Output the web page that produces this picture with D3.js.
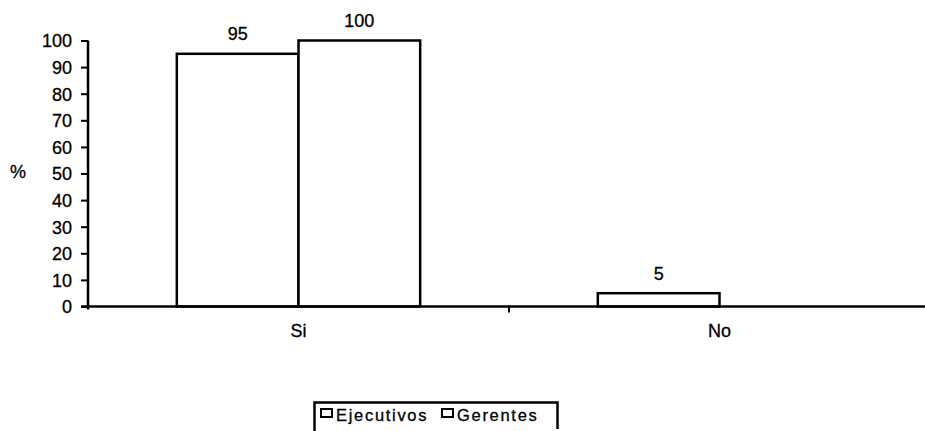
<!DOCTYPE html>
<html>
<head>
<meta charset="utf-8">
<script src="https://cdn.jsdelivr.net/npm/d3@7"></script>
<style>
  html, body { margin: 0; padding: 0; background: #fff; }
  svg { display: block; }
  text { font-family: "Liberation Sans", Arial, sans-serif; fill: #000; stroke: #000; stroke-width: 0.3px; }
</style>
</head>
<body>
<svg id="chart" width="925" height="431"></svg>
<script>
const categories = ["Si", "No"];
const seriesNames = ["Ejecutivos", "Gerentes"];
const ejecutivos = [95, 5];
const gerentes = [100, 0];
const yTicks = [0, 10, 20, 30, 40, 50, 60, 70, 80, 90, 100];
const yLabel = "%";

const FONT = "Liberation Sans, Arial, sans-serif";
const svg = d3.select("#chart");
const mLeft = 88, mRight = 930, mTop = 40.5, mBottom = 306.5;

const x = d3.scaleBand().domain(categories).range([mLeft, mRight]).padding(0);
const xInner = d3.scaleBand().domain(seriesNames)
  .range([0, x.bandwidth()]).paddingInner(0).paddingOuter(0.73);
const y = d3.scaleLinear().domain([0, 100]).range([mBottom, mTop]);

const data = categories.map((c, i) => ({
  cat: c,
  vals: [{s: seriesNames[0], v: ejecutivos[i]}, {s: seriesNames[1], v: gerentes[i]}]
}));

// bars
const g = svg.append("g");
data.forEach(d => {
  d.vals.forEach(e => {
    if (e.v <= 0) return;
    const bx = x(d.cat) + xInner(e.s);
    g.append("rect")
      .attr("x", bx).attr("y", y(e.v))
      .attr("width", xInner.bandwidth()).attr("height", y(0) - y(e.v))
      .attr("fill", "#fff").attr("stroke", "#000").attr("stroke-width", 2.5);
    g.append("text")
      .attr("x", bx + xInner.bandwidth() / 2).attr("y", y(e.v) - 13.5)
      .attr("text-anchor", "middle").attr("font-size", 18)
      .text(e.v);
  });
});

// y axis
const yAxis = svg.append("g").attr("transform", `translate(${mLeft},0)`)
  .call(d3.axisLeft(y).tickValues(yTicks).tickSize(7).tickPadding(9));
yAxis.selectAll("text").attr("font-size", 18).attr("font-family", FONT).attr("fill", "#000").attr("dy", "0.36em");
yAxis.selectAll("line").attr("stroke", "#000").attr("stroke-width", 2);
yAxis.select(".domain").attr("stroke", "#000").attr("stroke-width", 2.5).attr("d", `M0,${mTop}V${mBottom + 3}`);

// x axis
const xAxis = svg.append("g").attr("transform", `translate(0,${mBottom})`)
  .call(d3.axisBottom(x).tickSize(0).tickPadding(18));
xAxis.select(".domain").attr("stroke", "#000").attr("stroke-width", 2.5).attr("d", `M${mLeft - 7},0H925`);
xAxis.selectAll("text").attr("font-size", 18).attr("font-family", FONT).attr("fill", "#000");
// category separator tick
svg.append("line")
  .attr("x1", x("No")).attr("x2", x("No"))
  .attr("y1", mBottom).attr("y2", mBottom + 6)
  .attr("stroke", "#000").attr("stroke-width", 2);

// y label
svg.append("text").attr("x", 18).attr("y", 178).attr("text-anchor", "middle")
  .attr("font-size", 18).text(yLabel);

// legend
const lg = svg.append("g");
lg.append("path").attr("d", "M314.5,431V402.5H557.5V429")
  .attr("fill", "none").attr("stroke", "#000").attr("stroke-width", 2.5);
const legX = [321, 442];
seriesNames.forEach((s, i) => {
  lg.append("rect").attr("x", legX[i]).attr("y", 409).attr("width", 11).attr("height", 8)
    .attr("fill", "#fff").attr("stroke", "#000").attr("stroke-width", 2);
  lg.append("text").attr("x", legX[i] + 15).attr("y", 421).attr("font-size", 16.5)
    .attr("letter-spacing", "1.7px").text(s);
});
</script>
</body>
</html>
